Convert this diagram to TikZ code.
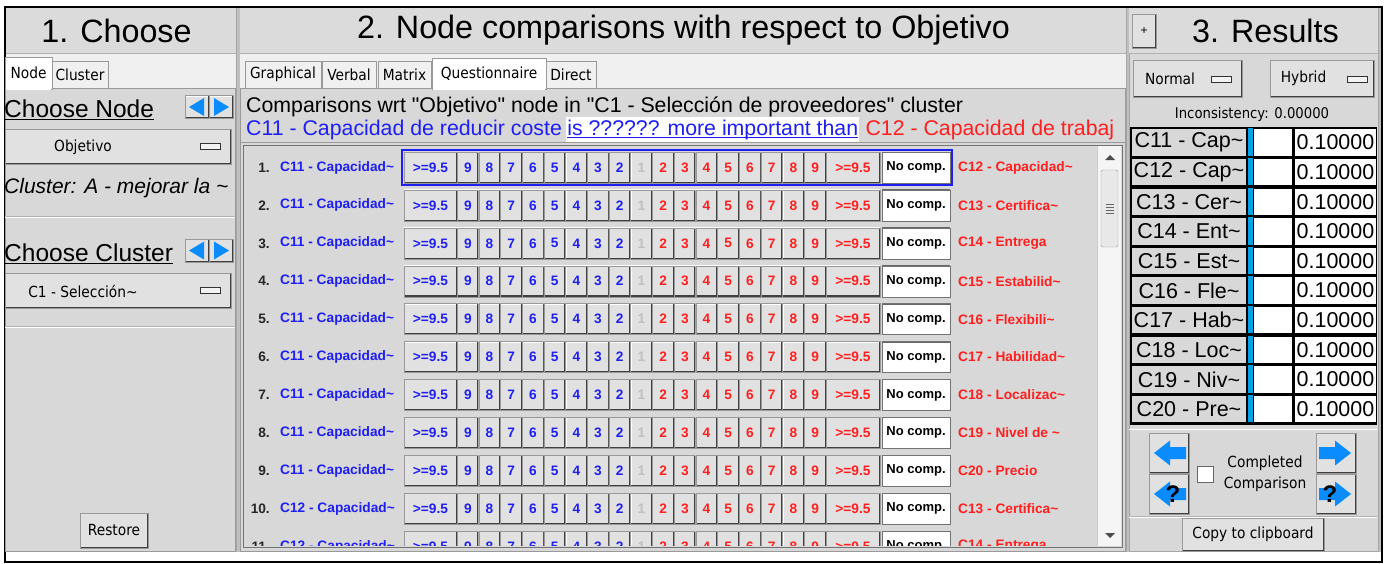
\documentclass[tikz,border=0pt]{standalone}
\usepackage{fontspec}
\setmainfont{Liberation Sans}
\newfontfamily\tahoma[FakeStretch=0.9]{DejaVu Sans}
\usetikzlibrary{positioning}

\definecolor{gpanel}{HTML}{D8D8D8}
\definecolor{gtitulo}{HTML}{DBDBDB}
\definecolor{gpestanas}{HTML}{F0F0F0}
\definecolor{gboton}{HTML}{E1E1E1}
\definecolor{azul}{HTML}{1F1FF2}
\definecolor{rojo}{HTML}{FF1F1F}
\definecolor{flecha}{HTML}{0A8CFF}
\definecolor{celeste}{HTML}{00A2E8}

\tikzset{
  texto/.style={inner sep=0pt},
  titulo/.style={texto, font=\fontsize{32.3}{36}\selectfont},
  ui/.style={texto, font=\tahoma\fontsize{15.3}{18}\selectfont},
  boton/.style={draw=black!40, fill=gboton, inner sep=0pt,
    path picture={
      \draw[white, line width=2pt] (path picture bounding box.south west) -- (path picture bounding box.north west) -- (path picture bounding box.north east);
      \draw[black!75, line width=2.5pt] (path picture bounding box.south west) -- (path picture bounding box.south east) -- (path picture bounding box.north east);}},
  pestana/.style={draw=black!40, fill=black!6, inner sep=0pt, font=\tahoma\fontsize{15.3}{18}\selectfont},
  indicador/.style={draw=black!80, fill=black!5, minimum width=20pt, minimum height=6pt, inner sep=0pt},
  celda/.style={draw=black, line width=1pt, minimum height=27.5pt, inner sep=0pt, font=\fontsize{21.5}{24}\selectfont},
  fila/.style={texto, font=\bfseries\fontsize{13.7}{16}\selectfont},
  num/.style={boton, minimum height=31pt, font=\bfseries\fontsize{13.7}{16}\selectfont},
}

\begin{document}
\begin{tikzpicture}[x=1pt, y=-1pt]
  % Fondo y marco
  \useasboundingbox (0,0) rectangle (1389,563);
  \fill[white] (0,0) rectangle (1389,563);
  \fill[black!25] (5,7) rectangle (1382,552);
  \fill[white] (5,552) rectangle (1382,561);

  % Paneles
  \foreach \a/\b in {6/236, 240/1126, 1129/1378} {
    \draw[black!35, fill=gpanel] (\a,8) rectangle (\b,551);
    \fill[gtitulo] (\a,8) rectangle (\b,53);
    \draw[black!30] (\a,53) -- (\b,53);
  }
  \fill[gpestanas] (6,54) rectangle (236,88);
  \fill[gpestanas] (240,54) rectangle (1126,88);
  \draw[black, line width=1.5pt] (5,7) rectangle (1382,562);

  % Titulos
  \node[titulo] (t1) at (116.5,30.5) {1. Choose};
  \node[titulo] (t2) at (683.5,30.5) {2. Node comparisons with respect to Objetivo};
  \node[titulo] (t3) at (1265.5,30.5) {3. Results};

  % Panel 1
  \draw[black!40, fill=gpanel] (5,88) rectangle (235,551);
  \node[pestana, fill=white, minimum width=47pt, minimum height=32pt] (tnodo) at (28.5,73) {Node};
  \node[pestana, minimum width=56pt, minimum height=27pt] (tclus) at (80,74.5) {Cluster};
  \fill[white] (6,87) rectangle (51,90);

  \node[texto, anchor=base west, font=\fontsize{24.5}{28}\selectfont] (cnodo) at (4,117) {Choose Node};
  \draw ([yshift=-2.5]cnodo.base west) -- ([yshift=-2.5]cnodo.base east);
  \node[boton, minimum width=24pt, minimum height=23pt] (ni) at (197,107) {};
  \node[boton, minimum width=24pt, minimum height=23pt] (nd) at (221,107) {};
  \fill[flecha] ([xshift=-8]ni.center) -- ([xshift=7,yshift=9]ni.center) -- ([xshift=7,yshift=-9]ni.center) -- cycle;
  \fill[flecha] ([xshift=8]nd.center) -- ([xshift=-7,yshift=9]nd.center) -- ([xshift=-7,yshift=-9]nd.center) -- cycle;

  \node[boton, minimum width=226pt, minimum height=35pt] (nodo) at (118,146.5) {};
  \node[ui] (nodo-t) at (83,147) {Objetivo};
  \node[indicador] (nodo-i) at (210.5,146) {};

  \node[texto, anchor=base west, font=\itshape\fontsize{21}{24}\selectfont] (clus) at (4,193) {Cluster: A - mejorar la \textasciitilde};
  \draw[black!30] (5,216.5) -- (235,216.5);
  \draw[white] (5,217.5) -- (235,217.5);

  \node[texto, anchor=base west, font=\fontsize{24.5}{28}\selectfont] (cclus) at (4,261) {Choose Cluster};
  \draw ([yshift=-2.5]cclus.base west) -- ([yshift=-2.5]cclus.base east);
  \node[boton, minimum width=24pt, minimum height=23pt] (ci) at (197,250.5) {};
  \node[boton, minimum width=24pt, minimum height=23pt] (cd) at (221,250.5) {};
  \fill[flecha] ([xshift=-8]ci.center) -- ([xshift=7,yshift=9]ci.center) -- ([xshift=7,yshift=-9]ci.center) -- cycle;
  \fill[flecha] ([xshift=8]cd.center) -- ([xshift=-7,yshift=9]cd.center) -- ([xshift=-7,yshift=-9]cd.center) -- cycle;

  \node[boton, minimum width=226pt, minimum height=35pt] (grupo) at (118,290.5) {};
  \node[ui] (grupo-t) at (83,291) {C1 - Selección\textasciitilde};
  \node[indicador] (grupo-i) at (210.5,290) {};
  \draw[black!30] (5,326.5) -- (235,326.5);
  \draw[white] (5,327.5) -- (235,327.5);

  \node[boton, ui, minimum width=68pt, minimum height=35pt] (restaurar) at (114,530.5) {Restore};

  % Panel 2
  \draw[black!40, fill=gpanel] (240,88) rectangle (1125,551);
  \node[pestana, minimum width=76pt, minimum height=27pt] (tgraf) at (283,74.5) {Graphical};
  \node[pestana, minimum width=54pt, minimum height=27pt] (tverb) at (349,74.5) {Verbal};
  \node[pestana, minimum width=53pt, minimum height=27pt] (tmatr) at (404.5,74.5) {Matrix};
  \node[pestana, fill=white, minimum width=114pt, minimum height=31pt] (tcues) at (489,73.5) {Questionnaire};
  \node[pestana, minimum width=50pt, minimum height=27pt] (tdire) at (571,74.5) {Direct};
  \fill[white] (433,87) rectangle (545,90);

  \node[texto, anchor=base west, font=\fontsize{21.3}{24}\selectfont] (enc1) at (246,112) {Comparisons wrt \textquotedbl Objetivo\textquotedbl{} node in \textquotedbl C1 - Selección de proveedores\textquotedbl{} cluster};
  \node[texto, anchor=base west, text=azul, font=\fontsize{21.3}{24}\selectfont] (enc2a) at (246,135) {C11 - Capacidad de reducir coste};
  \node[anchor=base west, fill=white, inner xsep=1pt, inner ysep=2.5pt, text=azul, font=\fontsize{21.3}{24}\selectfont] (enc2b) at ([xshift=4]enc2a.base east) {is ?????? more important than};
  \draw[azul] ([xshift=1,yshift=-2.5]enc2b.base west) -- ([xshift=-1,yshift=-2.5]enc2b.base east);
  \node[texto, anchor=base west, text=rojo, font=\fontsize{21.3}{24}\selectfont] (enc2c) at ([xshift=6]enc2b.base east) {C12 - Capacidad de trabaj};
  \draw[black!40] (241,142) -- (1125,142);

  % Filas de comparaciones
  \draw[black!55, fill=gpanel] (243,145) rectangle (1122,547);
  \begin{scope}
    \clip (243,145) rectangle (1096,545);
    \foreach \izq/\der [count=\k] in {
      C11 - Capacidad\textasciitilde/C12 - Capacidad\textasciitilde,
      C11 - Capacidad\textasciitilde/C13 - Certifica\textasciitilde,
      C11 - Capacidad\textasciitilde/C14 - Entrega,
      C11 - Capacidad\textasciitilde/C15 - Estabilid\textasciitilde,
      C11 - Capacidad\textasciitilde/C16 - Flexibili\textasciitilde,
      C11 - Capacidad\textasciitilde/C17 - Habilidad\textasciitilde,
      C11 - Capacidad\textasciitilde/C18 - Localizac\textasciitilde,
      C11 - Capacidad\textasciitilde/C19 - Nivel de \textasciitilde,
      C11 - Capacidad\textasciitilde/C20 - Precio,
      C12 - Capacidad\textasciitilde/C13 - Certifica\textasciitilde,
      C12 - Capacidad\textasciitilde/C14 - Entrega} {
      \pgfmathsetmacro{\yf}{167.5+(\k-1)*37.9}
      \node[fila, anchor=east, text=black!85] (n\k) at (270,\yf) {\k.};
      \node[fila, anchor=west, text=azul] (izq\k) at (280,\yf) {\izq};
      \node[num, minimum width=53pt, text=azul] (a\k) at (430.5,\yf) {>=9.5};
      \foreach \d [count=\j] in {9,8,7,6,5,4,3,2}
        \node[num, minimum width=21.7pt, text=azul] (a\k-\d) at ({457+(\j-0.5)*21.7},\yf) {\d};
      \node[num, minimum width=21.7pt, text=black!25] (u\k) at ({457+8.5*21.7},\yf) {1};
      \foreach \d [count=\j from 10] in {2,...,9}
        \node[num, minimum width=21.7pt, text=rojo] (b\k-\d) at ({457+(\j-0.5)*21.7},\yf) {\d};
      \node[num, minimum width=54pt, text=rojo] (b\k) at (853,\yf) {>=9.5};
      \node[draw=black!55, fill=white, minimum width=68pt, minimum height=31pt, inner sep=0pt,
        font=\bfseries\fontsize{13}{16}\selectfont,
        path picture={\draw[black!60, line width=2pt] (path picture bounding box.south west) -- (path picture bounding box.north west) -- (path picture bounding box.north east);}] (nc\k) at (916,\yf) {No comp.};
      \node[fila, anchor=west, text=rojo] (der\k) at (958,\yf) {\der};
    }
  \end{scope}
  \draw[azul, line width=2.5pt] ([xshift=-2,yshift=2]a1.north west) rectangle ([xshift=2,yshift=-2]nc1.south east);

  % Barra de desplazamiento
  \fill[black!4] (1097,146) rectangle (1121,546);
  \draw[black!20] (1097,146) -- (1097,546);
  \fill[black!70] (1105,160) -- (1115,160) -- (1110,155) -- cycle;
  \fill[black!70] (1105,533) -- (1115,533) -- (1110,538) -- cycle;
  \node[draw=black!40, fill=black!9, rounded corners=1.5pt, minimum width=17pt, minimum height=77pt, inner sep=0pt] (pulgar) at (1109.5,208.5) {};
  \foreach \g in {-4.5,-1.5,1.5,4.5}
    \draw[black!60] ([xshift=-4,yshift=\g]pulgar.center) -- ([xshift=4,yshift=\g]pulgar.center);

  % Panel 3
  \node[boton, minimum width=24pt, minimum height=34pt, font=\fontsize{12}{14}\selectfont] (mas) at (1144,31) {+};
  \node[boton, minimum width=109pt, minimum height=37pt] (normal) at (1187.5,78.5) {};
  \node[ui] (normal-t) at (1170,78.5) {Normal};
  \node[indicador] (normal-i) at (1221.5,79) {};
  \node[boton, minimum width=104pt, minimum height=37pt] (hibrido) at (1322,78.5) {};
  \node[ui] (hibrido-t) at (1303.5,78.5) {Hybrid};
  \node[indicador] (hibrido-i) at (1357.5,79) {};
  \node[ui, font=\tahoma\fontsize{14.7}{17}\selectfont] (incons) at (1252,114) {Inconsistency: 0.00000};

  % Tabla de resultados
  \fill[black] (1130,127) rectangle (1377,425);
  \foreach \c [count=\k] in {C11 - Cap,C12 - Cap,C13 - Cer,C14 - Ent,C15 - Est,C16 - Fle,C17 - Hab,C18 - Loc,C19 - Niv,C20 - Pre} {
    \pgfmathsetmacro{\yt}{128.3+(\k-1)*29.6}
    \node[celda, fill=gpanel, minimum width=115pt, anchor=north west] (et\k) at (1131,\yt) {\c\textasciitilde};
    \fill[celeste] (1248,\yt) rectangle ({1253},{\yt+27.5});
    \node[celda, fill=white, minimum width=39pt, anchor=north west] (bl\k) at (1253,\yt) {};
    \node[celda, fill=white, minimum width=82pt, anchor=north west] (val\k) at (1294,\yt) {0.10000};
  }
  \draw[white] (1129,429) -- (1377,429);
  \draw[black!30] (1129,516) -- (1377,516);
  \draw[white] (1129,517) -- (1377,517);

  % Flechas de navegacion
  \node[boton, minimum width=40pt, minimum height=40pt] (fi) at (1169,453) {};
  \node[boton, minimum width=40pt, minimum height=40pt] (qi) at (1169,494) {};
  \node[boton, minimum width=40pt, minimum height=40pt] (fd) at (1336,453) {};
  \node[boton, minimum width=40pt, minimum height=40pt] (qd) at (1336,494) {};
  \foreach \b/\s in {fi/1, qi/1, fd/-1, qd/-1}
    \fill[flecha] ([xshift={-15*\s}]\b.center) -- ([xshift={1*\s},yshift=12.5]\b.center) -- ([xshift={1*\s},yshift=6]\b.center)
      -- ([xshift={17*\s},yshift=6]\b.center) -- ([xshift={17*\s},yshift=-6]\b.center) -- ([xshift={1*\s},yshift=-6]\b.center)
      -- ([xshift={1*\s},yshift=-12.5]\b.center) -- cycle;
  \node[texto, font=\bfseries\fontsize{24}{28}\selectfont] (qi-t) at ([xshift=4]qi.center) {?};
  \node[texto, font=\bfseries\fontsize{24}{28}\selectfont] (qd-t) at ([xshift=-6]qd.center) {?};
  \node[draw=black!60, fill=white, minimum size=16pt, inner sep=0pt] (marca) at (1205,474) {};
  \node[ui, align=center, font=\tahoma\fontsize{15.3}{20.5}\selectfont] (completa) at (1265,474) {Completed\\Comparison};
  \node[boton, ui, minimum width=142pt, minimum height=33pt] (copiar) at (1253,534.5) {Copy to clipboard};
\end{tikzpicture}
\end{document}
